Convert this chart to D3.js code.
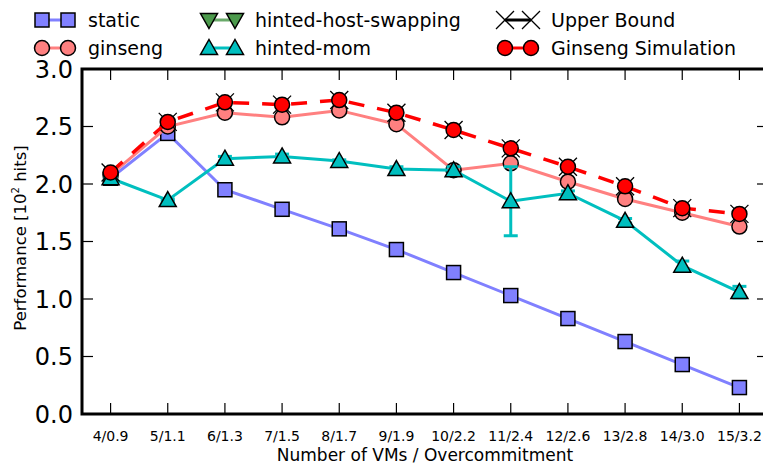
<!DOCTYPE html>
<html>
<head>
<meta charset="utf-8">
<script src="https://cdn.jsdelivr.net/npm/d3@7"></script>
<style>
body { margin: 0; background: #fff; }
text { font-family: "DejaVu Sans", sans-serif; }
</style>
</head>
<body>
<div id="chart"></div>
<script>
// categories and series values
var categories = ["4/0.9", "5/1.1", "6/1.3", "7/1.5", "8/1.7", "9/1.9", "10/2.2", "11/2.4", "12/2.6", "13/2.8", "14/3.0", "15/3.2"];
var staticVals = [2.05, 2.44, 1.95, 1.78, 1.61, 1.43, 1.23, 1.03, 0.83, 0.63, 0.43, 0.23];
var ginsengVals = [2.08, 2.50, 2.62, 2.58, 2.64, 2.52, 2.12, 2.18, 2.02, 1.87, 1.75, 1.63];
var momVals = [2.05, 1.86, 2.22, 2.24, 2.20, 2.13, 2.12, 1.85, 1.92, 1.68, 1.29, 1.06];
var momErr = [0.01, 0.01, 0.02, 0.02, 0.01, 0.02, 0.03, 0.30, 0.02, 0.02, 0.04, 0.05];
var upperVals = [2.10, 2.54, 2.71, 2.69, 2.73, 2.62, 2.47, 2.31, 2.15, 1.98, 1.79, 1.74];
var simVals = [2.10, 2.54, 2.71, 2.69, 2.73, 2.62, 2.47, 2.31, 2.15, 1.98, 1.79, 1.74];
var yTicks = [0.0, 0.5, 1.0, 1.5, 2.0, 2.5, 3.0];

var width = 763, height = 465;
var margin = {top: 69, right: -5, bottom: 51, left: 82};

var svg = d3.select("#chart").append("svg")
    .attr("width", width)
    .attr("height", height);

var x = d3.scaleLinear().domain([-0.5, categories.length - 0.5]).range([margin.left, width - margin.right]);
var y = d3.scaleLinear().domain([0, 3]).range([height - margin.bottom, margin.top]);

var plot = svg.append("g");

// ticks (inward, all four sides)
var tickLen = 11;
categories.forEach(function(c, i){
    plot.append("line").attr("x1", x(i)).attr("x2", x(i))
        .attr("y1", y(0)).attr("y2", y(0) - tickLen).attr("stroke", "#000").attr("stroke-width", 1.2);
    plot.append("line").attr("x1", x(i)).attr("x2", x(i))
        .attr("y1", y(3)).attr("y2", y(3) + tickLen).attr("stroke", "#000").attr("stroke-width", 1.2);
    svg.append("text").attr("x", x(i)).attr("y", y(0) + 26.5)
        .attr("text-anchor", "middle").attr("font-size", 14).text(c);
});
yTicks.forEach(function(t){
    plot.append("line").attr("x1", x(-0.5)).attr("x2", x(-0.5) + tickLen)
        .attr("y1", y(t)).attr("y2", y(t)).attr("stroke", "#000").attr("stroke-width", 1.2);
    plot.append("line").attr("x1", x(categories.length - 0.5)).attr("x2", x(categories.length - 0.5) - tickLen)
        .attr("y1", y(t)).attr("y2", y(t)).attr("stroke", "#000").attr("stroke-width", 1.2);
    svg.append("text").attr("x", 73).attr("y", y(t)).attr("dy", "0.36em")
        .attr("text-anchor", "end").attr("font-size", 24).text(t.toFixed(1));
});

var line = d3.line().x(function(d, i){ return x(i); }).y(function(d){ return y(d); });

function square(g, cx, cy, fill){
    g.append("rect").attr("x", cx - 7).attr("y", cy - 7).attr("width", 14).attr("height", 14)
        .attr("fill", fill).attr("stroke", "#000").attr("stroke-width", 1.5);
}
function circle(g, cx, cy, fill){
    g.append("circle").attr("cx", cx).attr("cy", cy).attr("r", 7.5)
        .attr("fill", fill).attr("stroke", "#000").attr("stroke-width", 1.5);
}
function triUp(g, cx, cy, fill){
    g.append("path").attr("d", "M" + cx + "," + (cy - 8.5) + "L" + (cx + 8.5) + "," + (cy + 6.5) + "L" + (cx - 8.5) + "," + (cy + 6.5) + "Z")
        .attr("fill", fill).attr("stroke", "#000").attr("stroke-width", 1.5);
}
function triDown(g, cx, cy, fill){
    g.append("path").attr("d", "M" + cx + "," + (cy + 8.5) + "L" + (cx + 8.5) + "," + (cy - 6.5) + "L" + (cx - 8.5) + "," + (cy - 6.5) + "Z")
        .attr("fill", fill).attr("stroke", "#000").attr("stroke-width", 1.5);
}
function cross(g, cx, cy){
    var s = 9;
    g.append("path").attr("d", "M" + (cx - s) + "," + (cy - s) + "L" + (cx + s) + "," + (cy + s) +
        "M" + (cx - s) + "," + (cy + s) + "L" + (cx + s) + "," + (cy - s))
        .attr("stroke", "#000").attr("stroke-width", 1.3).attr("fill", "none");
}

// static
plot.append("path").datum(staticVals).attr("d", line).attr("fill", "none")
    .attr("stroke", "#8080ff").attr("stroke-width", 3);
staticVals.forEach(function(d, i){ square(plot, x(i), y(d), "#8080ff"); });

// ginseng
plot.append("path").datum(ginsengVals).attr("d", line).attr("fill", "none")
    .attr("stroke", "#ff8080").attr("stroke-width", 3);
ginsengVals.forEach(function(d, i){ circle(plot, x(i), y(d), "#ff8080"); });

// hinted-mom with error bars
plot.append("path").datum(momVals).attr("d", line).attr("fill", "none")
    .attr("stroke", "#00bfbf").attr("stroke-width", 3);
momVals.forEach(function(d, i){
    var e = momErr[i];
    plot.append("line").attr("x1", x(i)).attr("x2", x(i)).attr("y1", y(d - e)).attr("y2", y(d + e))
        .attr("stroke", "#00bfbf").attr("stroke-width", 3);
    [d - e, d + e].forEach(function(v){
        plot.append("line").attr("x1", x(i) - 7).attr("x2", x(i) + 7).attr("y1", y(v)).attr("y2", y(v))
            .attr("stroke", "#00bfbf").attr("stroke-width", 3);
    });
});
momVals.forEach(function(d, i){ triUp(plot, x(i), y(d), "#00bfbf"); });

// upper bound
upperVals.forEach(function(d, i){ cross(plot, x(i), y(d)); });

// ginseng simulation
plot.append("path").datum(simVals).attr("d", line).attr("fill", "none")
    .attr("stroke", "#ff0000").attr("stroke-width", 3.5).attr("stroke-dasharray", "16,13");
simVals.forEach(function(d, i){ circle(plot, x(i), y(d), "#ff0000"); });

// spines
svg.append("path")
    .attr("d", "M" + x(-0.5) + "," + y(3) + "L" + x(-0.5) + "," + y(0) + "L" + x(categories.length - 0.5) + "," + y(0) +
        "L" + x(categories.length - 0.5) + "," + y(3) + "Z")
    .attr("fill", "none").attr("stroke", "#000").attr("stroke-width", 3);

// axis titles
svg.append("text").attr("x", 425).attr("y", 460.5).attr("text-anchor", "middle")
    .attr("font-size", 17).text("Number of VMs / Overcommitment");
var yl = svg.append("text").attr("transform", "translate(26,238) rotate(-90)")
    .attr("text-anchor", "middle").attr("font-size", 16.5);
yl.append("tspan").text("Performance [10");
yl.append("tspan").attr("font-size", 10).attr("dy", -7).text("2");
yl.append("tspan").attr("dy", 7).text(" hits]");

// legend
var legend = svg.append("g");
var items = [
    {label: "static", col: 0, row: 0, color: "#8080ff", mark: square, fill: "#8080ff"},
    {label: "ginseng", col: 0, row: 1, color: "#ff8080", mark: circle, fill: "#ff8080"},
    {label: "hinted-host-swapping", col: 1, row: 0, color: "#6aaa6a", mark: triDown, fill: "#4c9a4c"},
    {label: "hinted-mom", col: 1, row: 1, color: "#00bfbf", mark: triUp, fill: "#00bfbf"},
    {label: "Upper Bound", col: 2, row: 0, color: "#000", mark: null},
    {label: "Ginseng Simulation", col: 2, row: 1, color: "#ff0000", mark: circle, fill: "#ff0000"}
];
var colX = [42, 209, 505];
var rowY = [20, 48];
items.forEach(function(it){
    var x0 = colX[it.col], yy = rowY[it.row];
    legend.append("line").attr("x1", x0).attr("x2", x0 + 26).attr("y1", yy).attr("y2", yy)
        .attr("stroke", it.color).attr("stroke-width", 3);
    if (it.mark) {
        it.mark(legend, x0, yy, it.fill);
        it.mark(legend, x0 + 26, yy, it.fill);
    } else {
        cross(legend, x0, yy);
        cross(legend, x0 + 26, yy);
    }
    legend.append("text").attr("x", x0 + 46).attr("y", yy).attr("dy", "0.36em")
        .attr("font-size", 19).text(it.label);
});
</script>
</body>
</html>
